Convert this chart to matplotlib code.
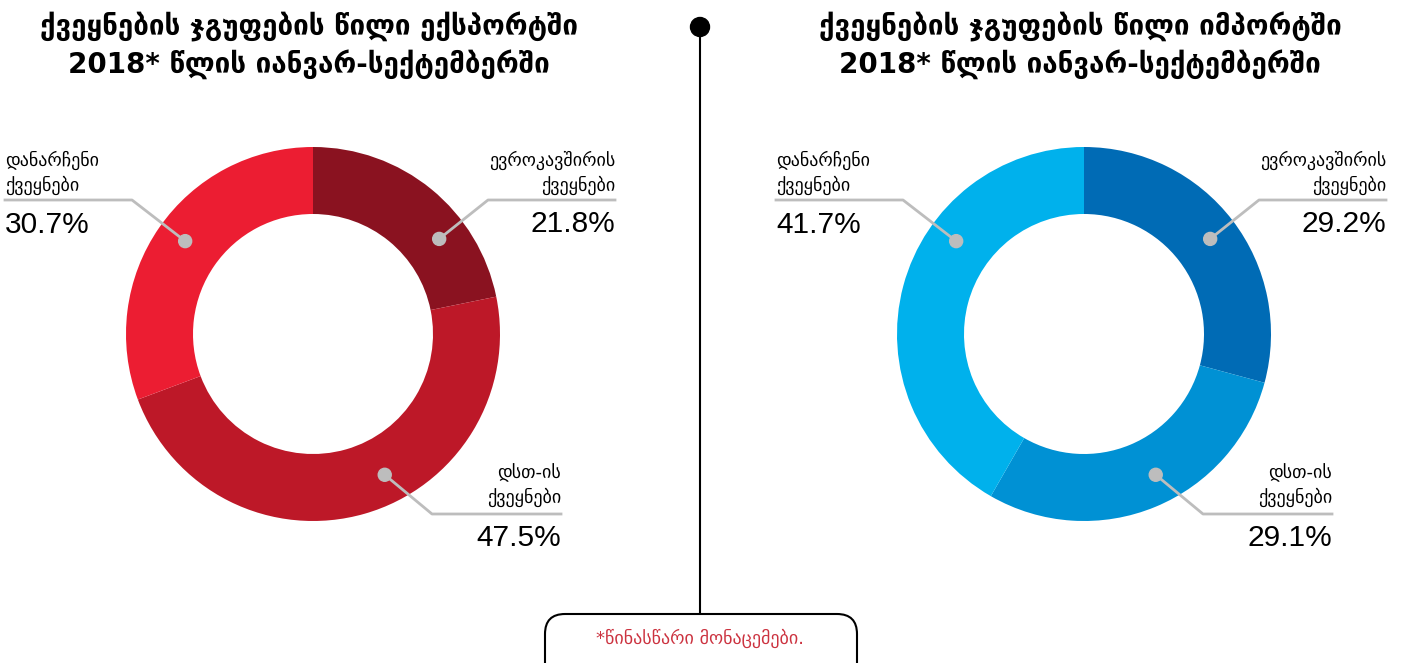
import numpy as np
import matplotlib.pyplot as plt
from matplotlib.patches import FancyBboxPatch, Circle

# მონაცემები
groups = ["ევროკავშირის\nქვეყნები", "დსთ-ის\nქვეყნები", "დანარჩენი\nქვეყნები"]
export_share = [21.8, 47.5, 30.7]
import_share = [29.2, 29.1, 41.7]
export_colors = ["#8A1220", "#BD1828", "#EC1D32"]
import_colors = ["#006BB5", "#0091D4", "#00B1EC"]
export_title = "ქვეყნების ჯგუფების წილი ექსპორტში\n2018* წლის იანვარ-სექტემბერში"
import_title = "ქვეყნების ჯგუფების წილი იმპორტში\n2018* წლის იანვარ-სექტემბერში"
footnote = "*წინასწარი მონაცემები."

W, H = 1419, 663
fig = plt.figure(figsize=(W / 100, H / 100), dpi=100)
ax = fig.add_axes([0, 0, 1, 1])

GREY = "#BDBDBD"
R_OUT, RING = 187, 67

# მდებარეობა ცენტრის მიმართ: (წერტილის კუთხე, იდაყვი dx, dy, ხაზის ბოლო dx, ტექსტის ha, ტექსტის y-ები ქვემოთ)
slots = [
    (53, 175, 134, 302, "right", -174, -149, -110),   # ევროკავშირი
    (153, 119, -180, 248, "right", 139, 163, 204),     # დსთ
    (-54, -181, 134, -308, "left", -174, -149, -109),  # დანარჩენი
]


def Y(y):
    return H - y


def draw_donut(cx, cy, values, colors, title):
    ax.pie(values, colors=colors, startangle=90, counterclock=False,
           radius=R_OUT, center=(cx, Y(cy)), frame=True,
           wedgeprops=dict(width=RING, edgecolor="none"))
    ax.text(cx - 4, Y(45), title, ha="center", va="center", fontsize=20,
            fontweight="bold", linespacing=1.3, family="DejaVu Sans")
    for (ang, ex, ey, endx, ha, t1, t2, tp), name, val in zip(slots, groups, values):
        a = np.deg2rad(ang)
        r = 158
        dx, dy = cx + r * np.sin(a), Y(cy) + r * np.cos(a)
        elx, ely = cx + ex, Y(cy) + ey
        ax.plot([dx, elx, cx + endx], [dy, ely, ely], color=GREY, lw=2, zorder=3)
        ax.add_patch(Circle((dx, dy), 6.5, color=GREY, zorder=4))
        tx = cx + endx
        l1, l2 = name.split("\n")
        ax.text(tx, Y(cy) - t1, l1, ha=ha, va="center", fontsize=13, family="DejaVu Sans")
        ax.text(tx, Y(cy) - t2, l2, ha=ha, va="center", fontsize=13, family="DejaVu Sans")
        ax.text(tx, Y(cy) - tp, f"{val}%", ha=ha, va="center",
                fontsize=21.5, family="Liberation Sans")


draw_donut(313, 334, export_share, export_colors, export_title)
draw_donut(1084, 334, import_share, import_colors, import_title)

# გამყოფი ხაზი და სქოლიო
ax.plot([700, 700], [Y(27), Y(614)], color="black", lw=1.5, zorder=2)
ax.add_patch(Circle((700, Y(27)), 9.5, color="black", zorder=3))
box = FancyBboxPatch((545, Y(690)), 312, 76, boxstyle="round,pad=0,rounding_size=20",
                     fc="white", ec="black", lw=1.5, zorder=3)
ax.add_patch(box)
ax.text(700, Y(638), footnote, ha="center", va="center", fontsize=13,
        color="#CC3340", family="DejaVu Sans", zorder=4)

ax.set_xlim(0, W)
ax.set_ylim(0, H)
ax.set_aspect("equal")
ax.axis("off")
fig.savefig("out.png", dpi=100)
